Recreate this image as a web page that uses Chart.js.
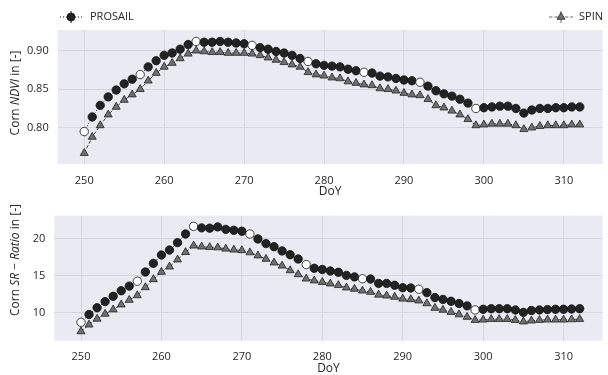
<!DOCTYPE html>
<html>
<head>
<meta charset="utf-8">
<script src="https://cdn.jsdelivr.net/npm/chart.js@4.4.1/dist/chart.umd.min.js"></script>
<style>
  html, body { margin: 0; padding: 0; background: #fff; }
  #wrap { position: relative; width: 608px; height: 375px; }
  #ndviBox { position: absolute; left: 0; top: 0; width: 608px; height: 200px; }
  #srBox { position: absolute; left: 0; top: 200px; width: 608px; height: 175px; }
</style>
</head>
<body>
<div id="wrap">
  <div id="ndviBox"><canvas id="ndviChart"></canvas></div>
  <div id="srBox"><canvas id="srChart"></canvas></div>
</div>
<script>
// day of year
var days = [250, 251, 252, 253, 254, 255, 256, 257, 258, 259,
            260, 261, 262, 263, 264, 265, 266, 267, 268, 269,
            270, 271, 272, 273, 274, 275, 276, 277, 278, 279,
            280, 281, 282, 283, 284, 285, 286, 287, 288, 289,
            290, 291, 292, 293, 294, 295, 296, 297, 298, 299,
            300, 301, 302, 303, 304, 305, 306, 307, 308, 309,
            310, 311, 312];

// days drawn with open (white) markers
var openDays = [250, 257, 264, 271, 278, 285, 292, 299];

var prosailNdvi = [0.795, 0.814, 0.829, 0.840, 0.849, 0.857, 0.863, 0.869, 0.879, 0.887,
                   0.894, 0.897, 0.902, 0.908, 0.912, 0.911, 0.911, 0.912, 0.911, 0.910,
                   0.909, 0.907, 0.904, 0.902, 0.899, 0.897, 0.894, 0.890, 0.886, 0.883,
                   0.881, 0.880, 0.879, 0.876, 0.874, 0.872, 0.871, 0.867, 0.866, 0.864,
                   0.862, 0.861, 0.859, 0.854, 0.848, 0.844, 0.841, 0.837, 0.832, 0.825,
                   0.826, 0.827, 0.828, 0.828, 0.825, 0.819, 0.823, 0.825, 0.825, 0.826,
                   0.826, 0.827, 0.827];

var spinNdvi = [0.767, 0.788, 0.803, 0.817, 0.827, 0.836, 0.843, 0.850, 0.861, 0.871,
                0.879, 0.884, 0.890, 0.896, 0.900, 0.899, 0.898, 0.898, 0.897, 0.897,
                0.897, 0.896, 0.894, 0.891, 0.888, 0.885, 0.882, 0.879, 0.872, 0.869,
                0.8675, 0.865, 0.864, 0.860, 0.858, 0.856, 0.855, 0.851, 0.850, 0.848,
                0.845, 0.843, 0.842, 0.837, 0.829, 0.826, 0.822, 0.817, 0.811, 0.803,
                0.804, 0.805, 0.805, 0.805, 0.803, 0.798, 0.800, 0.802, 0.803, 0.803,
                0.803, 0.804, 0.804];

var prosailSr = [8.66, 9.71, 10.63, 11.46, 12.18, 12.93, 13.56, 14.23, 15.48, 16.65,
                 17.78, 18.45, 19.46, 20.63, 21.67, 21.46, 21.42, 21.59, 21.26, 21.13,
                 21.00, 20.63, 19.96, 19.33, 18.91, 18.33, 17.82, 17.24, 16.49, 15.98,
                 15.82, 15.61, 15.44, 15.02, 14.81, 14.56, 14.52, 13.93, 13.93, 13.68,
                 13.35, 13.31, 13.14, 12.68, 12.01, 11.76, 11.51, 11.21, 10.88, 10.33,
                 10.42, 10.50, 10.50, 10.50, 10.33, 10.00, 10.25, 10.33, 10.38, 10.42,
                 10.42, 10.46, 10.50];

var spinSr = [7.41, 8.33, 9.12, 9.79, 10.38, 11.05, 11.67, 12.30, 13.39, 14.48,
              15.48, 16.19, 17.15, 18.16, 19.04, 18.91, 18.83, 18.79, 18.62, 18.49,
              18.41, 18.12, 17.70, 17.24, 16.74, 16.32, 15.69, 15.15, 14.56, 14.31,
              14.10, 13.89, 13.68, 13.35, 13.18, 12.93, 12.76, 12.38, 12.26, 12.09,
              11.84, 11.76, 11.59, 11.21, 10.59, 10.33, 10.04, 9.71, 9.37, 8.95,
              9.00, 9.08, 9.08, 9.08, 8.95, 8.74, 8.87, 8.95, 9.00, 9.00,
              9.00, 9.04, 9.08];

var dayTicks = [250, 260, 270, 280, 290, 300, 310];
var ndviTicks = [0.80, 0.85, 0.90];
var srTicks = [10, 15, 20];

var FONT = "'Open Sans', 'Noto Sans', sans-serif";
var TEXT = '#262626';
var GRID = '#d6d4de';
var PANEL = '#eaeaf2';

function points(vals) {
  var out = [];
  for (var i = 0; i < days.length; i++) out.push({ x: days[i], y: vals[i] });
  return out;
}

function openFill() {
  return days.map(function (d) { return openDays.indexOf(d) >= 0 ? '#ffffff' : '#222222'; });
}

function drawParts(ctx, parts, size) {
  var total = 0;
  parts.forEach(function (p) {
    ctx.font = (p.it ? 'italic ' : '') + size + 'px ' + FONT;
    total += ctx.measureText(p.t).width;
  });
  var x = -total / 2;
  parts.forEach(function (p) {
    ctx.font = (p.it ? 'italic ' : '') + size + 'px ' + FONT;
    ctx.fillText(p.t, x, 0);
    x += ctx.measureText(p.t).width;
  });
}

function drawCircle(ctx, x, y, r, fill) {
  ctx.beginPath();
  ctx.arc(x, y, r, 0, Math.PI * 2);
  ctx.fillStyle = fill;
  ctx.fill();
  ctx.lineWidth = 0.8;
  ctx.strokeStyle = '#111';
  ctx.stroke();
}

function drawTriangle(ctx, x, y, r, fill) {
  ctx.beginPath();
  ctx.moveTo(x, y - r);
  ctx.lineTo(x + r * 0.866, y + r * 0.5);
  ctx.lineTo(x - r * 0.866, y + r * 0.5);
  ctx.closePath();
  ctx.fillStyle = fill;
  ctx.fill();
  ctx.lineWidth = 0.8;
  ctx.strokeStyle = '#222';
  ctx.stroke();
}

var panelPlugin = {
  id: 'panel',
  beforeDraw: function (chart) {
    var a = chart.chartArea;
    var ctx = chart.ctx;
    ctx.save();
    ctx.fillStyle = PANEL;
    ctx.fillRect(a.left, a.top, a.right - a.left, a.bottom - a.top);
    ctx.restore();
  },
  afterDraw: function (chart, args, opts) {
    var ctx = chart.ctx;
    ctx.save();
    ctx.fillStyle = TEXT;
    ctx.textBaseline = 'middle';
    ctx.textAlign = 'left';

    // y axis title (rotated, part italic)
    ctx.save();
    ctx.translate(opts.yTitleX, opts.yTitleY);
    ctx.rotate(-Math.PI / 2);
    drawParts(ctx, opts.yTitle, 12);
    ctx.restore();

    // x axis title
    ctx.save();
    ctx.translate((chart.chartArea.left + chart.chartArea.right) / 2, opts.xTitleY);
    drawParts(ctx, [{ t: 'DoY', it: false }], 12);
    ctx.restore();

    if (opts.legend) {
      var ly = 17;
      // PROSAIL
      ctx.strokeStyle = '#111';
      ctx.lineWidth = 1;
      ctx.setLineDash([1, 2]);
      ctx.beginPath(); ctx.moveTo(60, ly); ctx.lineTo(83, ly); ctx.stroke();
      ctx.setLineDash([]);
      ctx.beginPath(); ctx.moveTo(71, ly - 6); ctx.lineTo(71, ly + 6); ctx.stroke();
      drawCircle(ctx, 71, ly, 4, '#222222');
      ctx.fillStyle = TEXT;
      ctx.font = '11px ' + FONT;
      ctx.fillText('PROSAIL', 90, ly);
      // SPIN
      ctx.strokeStyle = '#444';
      ctx.setLineDash([3.5, 1.8]);
      ctx.beginPath(); ctx.moveTo(549, ly); ctx.lineTo(573, ly); ctx.stroke();
      ctx.setLineDash([]);
      ctx.beginPath(); ctx.moveTo(561, ly - 6); ctx.lineTo(561, ly + 6); ctx.stroke();
      drawTriangle(ctx, 561, ly, 4.6, '#707070');
      ctx.fillStyle = TEXT;
      ctx.fillText('SPIN', 579, ly);
    }
    ctx.restore();
  }
};

function makeChart(id, prosail, spin, yMin, yMax, yTicks, yDigits, yWidth, xHeight, pad, titleOpts) {
  var ctx = document.getElementById(id).getContext('2d');
  return new Chart(ctx, {
    type: 'line',
    data: {
      datasets: [
        {
          label: 'PROSAIL',
          data: points(prosail),
          borderColor: '#111',
          borderWidth: 1,
          borderDash: [1, 2],
          pointStyle: 'circle',
          pointRadius: 4.2,
          pointBackgroundColor: openFill(),
          pointBorderColor: '#111',
          pointBorderWidth: 0.8,
          tension: 0
        },
        {
          label: 'SPIN',
          data: points(spin),
          borderColor: '#4a4a4a',
          borderWidth: 1,
          borderDash: [3.5, 1.8],
          pointStyle: 'triangle',
          pointRadius: 4.6,
          pointBackgroundColor: '#707070',
          pointBorderColor: '#222',
          pointBorderWidth: 0.8,
          tension: 0
        }
      ]
    },
    options: {
      responsive: true,
      maintainAspectRatio: false,
      animation: false,
      layout: { padding: pad },
      plugins: {
        legend: { display: false },
        tooltip: { enabled: false },
        panel: titleOpts
      },
      scales: {
        x: {
          type: 'linear',
          min: 246.68,
          max: 314.85,
          afterBuildTicks: function (s) { s.ticks = dayTicks.map(function (v) { return { value: v }; }); },
          afterFit: function (s) { s.height = xHeight; },
          grid: { color: GRID, lineWidth: 1, drawTicks: false },
          border: { display: false },
          ticks: { autoSkip: false, maxRotation: 0, padding: 10, color: TEXT, font: { family: FONT, size: 11 } }
        },
        y: {
          min: yMin,
          max: yMax,
          afterBuildTicks: function (s) { s.ticks = yTicks.map(function (v) { return { value: v }; }); },
          afterFit: function (s) { s.width = yWidth; },
          grid: { color: GRID, lineWidth: 1, drawTicks: false },
          border: { display: false },
          ticks: {
            autoSkip: false, padding: 9, color: TEXT, font: { family: FONT, size: 11 },
            callback: function (v) { return Number(v).toFixed(yDigits); }
          }
        }
      }
    },
    plugins: [panelPlugin]
  });
}

makeChart('ndviChart', prosailNdvi, spinNdvi, 0.7529, 0.9269, ndviTicks, 2, 57.7, 36,
  { top: 30, right: 4, left: 0, bottom: 0 },
  {
    yTitle: [{ t: 'Corn ', it: false }, { t: 'NDVI', it: true }, { t: ' in [-]', it: false }],
    yTitleX: 16, yTitleY: 93, xTitleY: 192, legend: true
  });

makeChart('srChart', prosailSr, spinSr, 6.16, 23.125, srTicks, 0, 54.3, 34.3,
  { top: 5, right: 0, left: 0, bottom: 0 },
  {
    yTitle: [{ t: 'Corn ', it: false }, { t: 'SR', it: true }, { t: ' \u2212 ', it: false },
             { t: 'Ratio', it: true }, { t: ' in [-]', it: false }],
    yTitleX: 16, yTitleY: 60, xTitleY: 169, legend: false
  });
</script>
</body>
</html>
